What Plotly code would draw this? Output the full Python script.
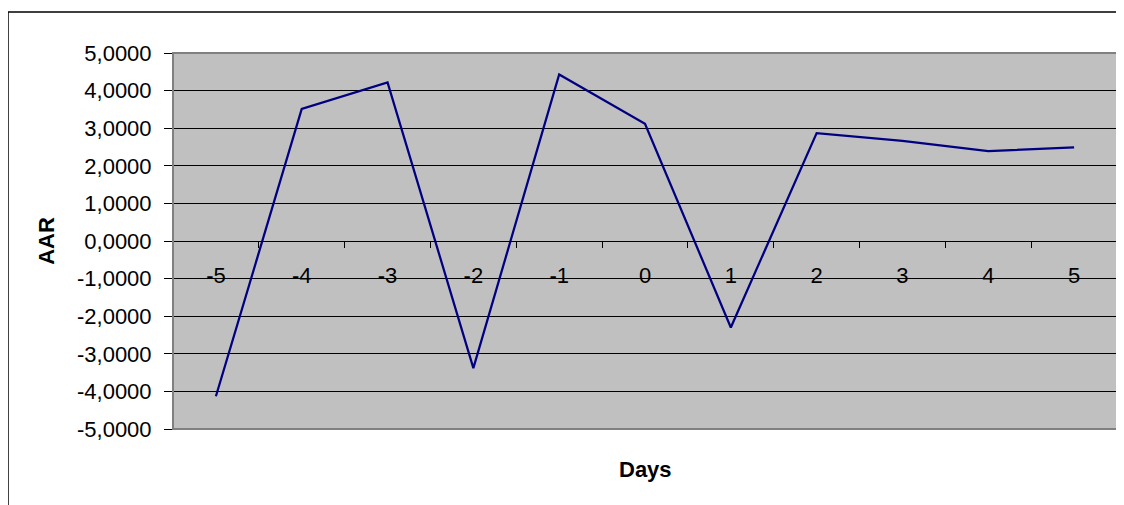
import plotly.graph_objects as go

days = ["-5", "-4", "-3", "-2", "-1", "0", "1", "2", "3", "4", "5"]
aar = [-4.13, 3.51, 4.22, -3.38, 4.43, 3.12, -2.30, 2.87, 2.66, 2.39, 2.49]
y_ticks = [-5, -4, -3, -2, -1, 0, 1, 2, 3, 4, 5]
y_ticktext = [f"{v:.4f}".replace(".", ",") for v in y_ticks]

FONT = "Liberation Sans, Arial, sans-serif"
FS = 22

fig = go.Figure()
fig.add_trace(go.Scatter(
    x=days, y=aar, mode="lines",
    line=dict(color="#000080", width=2.25),
    showlegend=False, hoverinfo="x+y",
))

fig.update_layout(
    width=1116, height=497,
    margin=dict(l=165, r=7, t=45, b=76, autoexpand=False),
    paper_bgcolor="white",
    plot_bgcolor="#C0C0C0",
    font=dict(family=FONT, size=FS, color="black"),
    xaxis=dict(
        type="category",
        categoryorder="array", categoryarray=days,
        range=[-0.5, 10.5],
        anchor="free", position=0.5,
        showline=True, linecolor="black", linewidth=1,
        ticks="outside", tickson="boundaries", ticklen=6, tickcolor="black",
        showgrid=False, zeroline=False,
        ticklabelstandoff=15,
        tickfont=dict(family=FONT, size=FS, color="black"),
    ),
    yaxis=dict(
        range=[-5, 5],
        tickvals=y_ticks, ticktext=y_ticktext,
        showgrid=True, gridcolor="black", gridwidth=1,
        zeroline=False,
        showline=True, linecolor="#505050", linewidth=1,
        ticks="outside", ticklen=8, tickcolor="black",
        ticklabelstandoff=8,
        tickfont=dict(family=FONT, size=FS, color="black"),
        title=dict(text="<b>AAR</b>", font=dict(family=FONT, size=FS, color="black"), standoff=16),
    ),
    annotations=[dict(
        text="<b>Days</b>", xref="paper", yref="paper",
        x=0.5, y=-0.109, xanchor="center", yanchor="middle",
        showarrow=False, font=dict(family=FONT, size=FS, color="black"),
    )],
    shapes=[
        dict(type="rect", xref="paper", yref="paper", x0=0, x1=1, y0=0, y1=1,
             line=dict(color="#808080", width=2), layer="above"),
        dict(type="path", xref="paper", yref="paper",
             path="M -0.1748,-0.3 L -0.1748,1.109 L 1.2,1.109",
             line=dict(color="black", width=1.5)),
    ],
)

fig.write_html("out.html")
